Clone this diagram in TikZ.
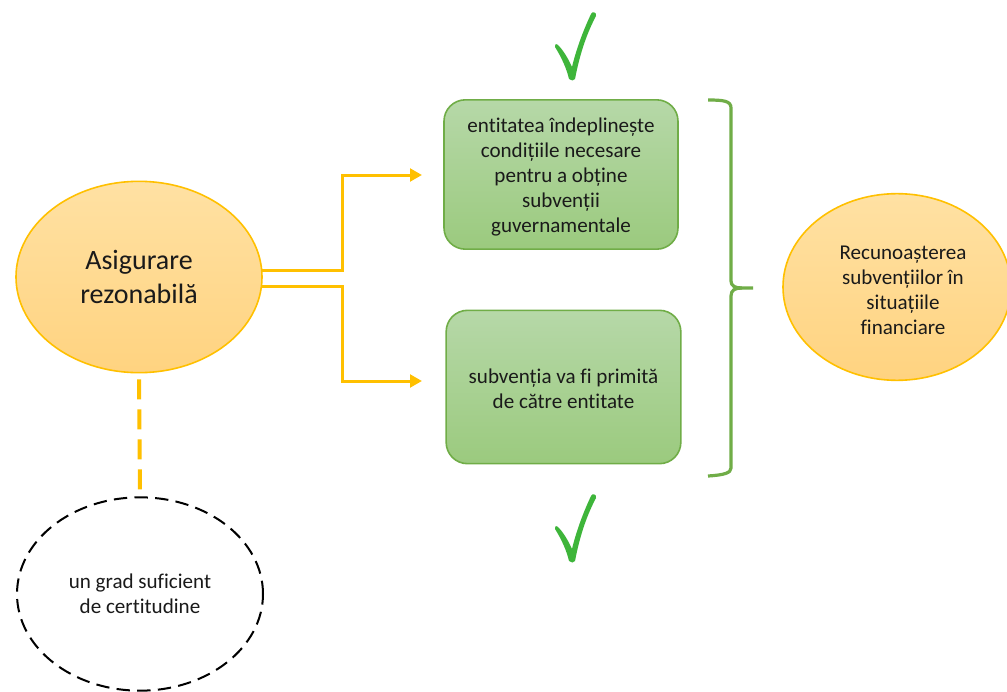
\documentclass[tikz,border=0pt]{standalone}
\usepackage{fontspec}
\setmainfont{Carlito}[Ligatures=NoCommon]
\usetikzlibrary{shapes.geometric,arrows.meta,calc}
\definecolor{ygold}{HTML}{FFC000}
\definecolor{efillT}{HTML}{FFE1A3}
\definecolor{efillB}{HTML}{FFD380}
\definecolor{gfillT}{HTML}{B6D8A8}
\definecolor{gfillB}{HTML}{9BCA7E}
\definecolor{gline}{HTML}{70AD47}
\definecolor{tickc}{HTML}{3EB53A}
\definecolor{txt}{HTML}{1A1A1A}
\tikzset{
  orangeell/.style={ellipse, draw=ygold, line width=1.2pt, top color=efillT, bottom color=efillB,
    inner sep=0pt, align=center, text=txt},
  greenbox/.style={rectangle, rounded corners=16pt, draw=gline, line width=1.2pt,
    top color=gfillT, bottom color=gfillB, inner sep=0pt},
  dashell/.style={ellipse, draw=black, line width=1.5pt, dash pattern=on 10pt off 5.5pt,
    inner sep=0pt, align=center, text=txt, font=\fontsize{15.8}{18.7}\selectfont},
  boxtext/.style={align=center, text=txt, inner sep=0pt, font=\fontsize{15.8}{18.8}\selectfont},
  conn/.style={draw=ygold, line width=2.25pt, -{Triangle[length=9pt,width=9.5pt]}},
  dashconn/.style={draw=ygold, line width=3pt, dash pattern=on 15pt off 7.5pt},
  bracepath/.style={draw=gline, line width=2.4pt, line join=round},
  tick/.pic={
    \fill[tickc] (-17,-31) .. controls (-10,-20) and (-5,-8) .. (-3,1)
      .. controls (-1,3) and (2,3) .. (3,1)
      .. controls (8,-25) and (15,-45) .. (24,-62)
      .. controls (25,-66) and (20,-67) .. (19,-64)
      .. controls (11,-47) and (4,-28) .. (0,-11)
      .. controls (-4,-20) and (-9,-28) .. (-14,-33)
      .. controls (-16,-35) and (-18,-33) .. cycle;
  }
}
\begin{document}
\begin{tikzpicture}[x=0.75pt,y=-0.75pt]
\useasboundingbox (0,0) rectangle (1007,692);
\fill[white] (0,0) rectangle (1007,692);
\clip (0,0) rectangle (1007,692);

\node[orangeell, minimum width=184.5pt, minimum height=143.5pt,
  font=\fontsize{21}{25.5}\selectfont] (a) at (139,277) {Asigurare\\rezonabilă};

\node[greenbox, minimum width=175.5pt, minimum height=112pt] (b1) at (561,174.5) {};
\node[boxtext] (b1t) at (561,177) {entitatea îndeplinește\\condițiile necesare\\pentru a obține\\subvenții\\guvernamentale};
\node[greenbox, minimum width=176pt, minimum height=115pt] (b2) at (563.5,387) {};
\node[boxtext] (b2t) at (563.5,389) {subvenția va fi primită\\de către entitate};

\node[orangeell, minimum width=171pt, minimum height=140pt] (r) at (897,287) {};
\node[boxtext] (rt) at (903,290) {Recunoașterea\\subvențiilor în\\situațiile\\financiare};

\node[dashell, minimum width=184.5pt, minimum height=145pt] (d) at (140,594)
  {un grad suficient\\de certitudine};

\coordinate (t1) at (422,175);
\coordinate (t2) at (422,381);
\draw[conn] ($(a.east)+(-1,-7)$) -- (342,270) |- (t1);
\draw[conn] ($(a.east)+(-1,9)$) -- (342,286) |- (t2);

\draw[dashconn] ($(a.south)+(0,6)$) -- ($(d.north)+(0,-6)$);

\coordinate (bt) at (708,100);
\coordinate (bb) at (708,476);
\coordinate (btip) at (753,288);
\draw[bracepath] (bt) .. controls (724,100) and (731,101) .. (731,108) -- (731,281)
  .. controls (731,286) and (735,288) .. (742,288) -- (btip);
\draw[bracepath] (742,288) .. controls (735,288) and (731,290) .. (731,296) -- (731,468)
  .. controls (731,473) and (724,475) .. (bb);

\pic at (572,78) {tick};
\pic at (572,560) {tick};
\end{tikzpicture}
\end{document}
